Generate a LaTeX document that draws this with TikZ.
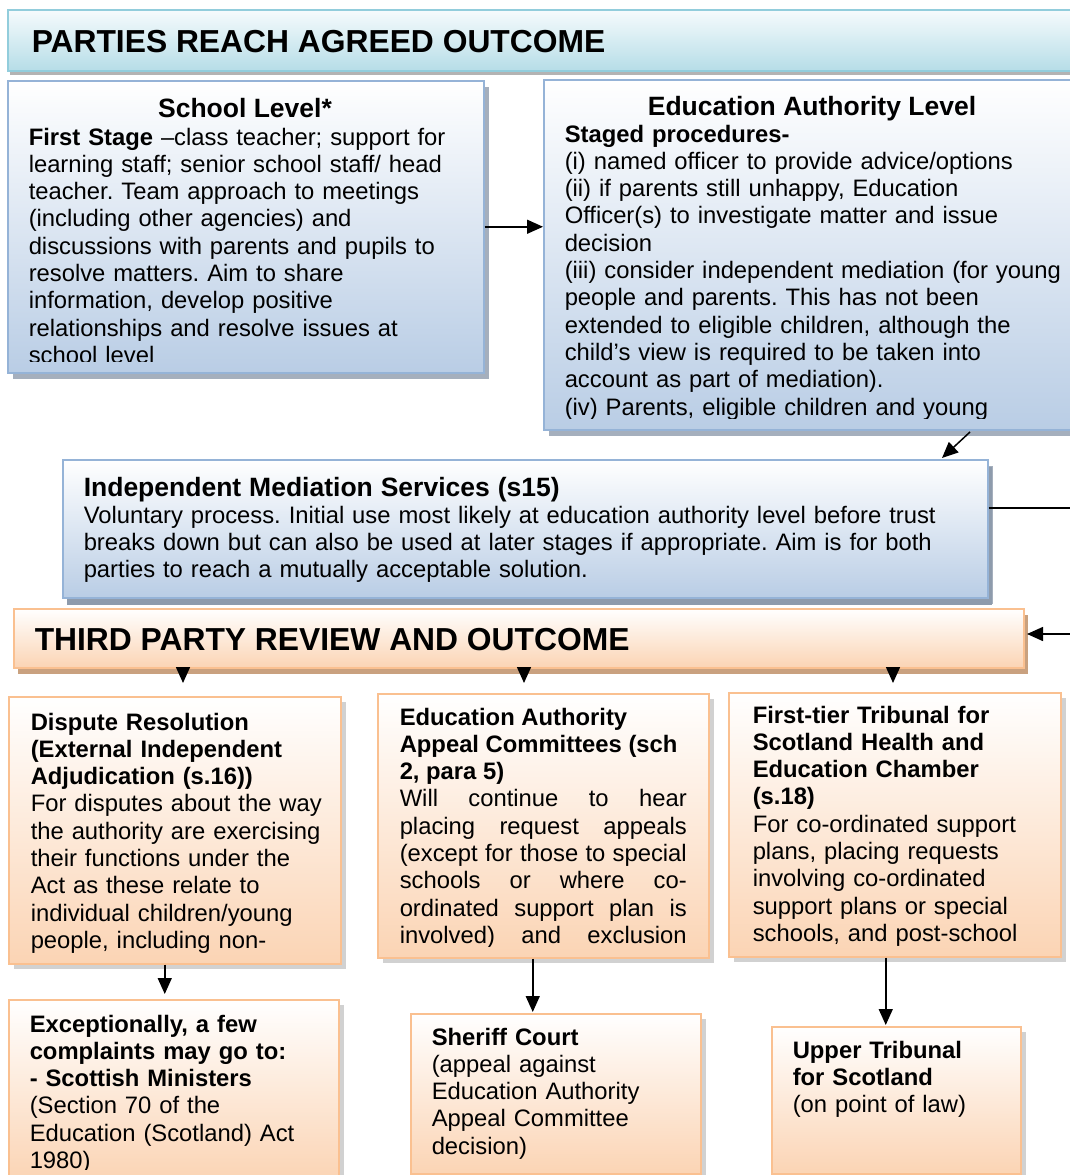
\documentclass[tikz,border=0pt]{standalone}
\usepackage{fontspec}
\setmainfont{Liberation Sans}
\usetikzlibrary{positioning,shadows,arrows.meta}

\definecolor{hdrline}{HTML}{92CDDC}
\definecolor{hdrtop}{HTML}{F6FBFD}
\definecolor{hdrfill}{HTML}{B6DDE7}
\definecolor{blueline}{HTML}{95B3D7}
\definecolor{bluefill}{HTML}{B9CDE5}
\definecolor{blueshade}{HTML}{8E9BAC}
\definecolor{orgline}{HTML}{FAC090}
\definecolor{orgfill}{HTML}{FBD4B4}
\definecolor{orgshade}{HTML}{C9A17F}

\newcommand{\bodysize}{\fontsize{23.8pt}{27.3pt}\selectfont}
\newcommand{\titlesize}{\fontsize{26.5pt}{30pt}\selectfont}
\newcommand{\headsize}{\fontsize{31.8pt}{36pt}\selectfont}
\frenchspacing

\begin{document}
\begin{tikzpicture}[x=1pt,y=-1pt,>={Triangle[length=16pt,width=14pt]},line width=1.5pt,
    box/.style={anchor=north west,inner sep=0pt},
    headbox/.style={box,draw=hdrline,top color=hdrtop,bottom color=hdrfill,
        drop shadow={shadow xshift=2pt,shadow yshift=-4pt,fill=black!50,opacity=.6}},
    bluebox/.style={box,draw=blueline,top color=white,bottom color=bluefill,
        drop shadow={shadow xshift=5pt,shadow yshift=-6pt,fill=blueshade,opacity=.8}},
    reviewbox/.style={box,draw=orgline,top color=white,bottom color=orgfill,
        drop shadow={shadow xshift=4pt,shadow yshift=-6pt,fill=orgshade,opacity=1}},
    orangebox/.style={box,draw=orgline,top color=white,bottom color=orgfill,
        drop shadow={shadow xshift=5pt,shadow yshift=-5pt,fill=black!40,opacity=.45}},
    txt/.style={anchor=base west,inner sep=0pt,align=left,text width=#1,font=\bodysize},
    headtxt/.style={anchor=base west,inner sep=0pt,font=\headsize\bfseries},
    titletxt/.style={anchor=base,inner sep=0pt,font=\titlesize\bfseries}]
    \useasboundingbox (0,0) rectangle (1070,1175);

    \node[headbox,minimum width=1075pt,minimum height=61pt] (agreed) at (7,9) {};
    \node[headtxt] (agreedtxt) at (31,52) {PARTIES REACH AGREED OUTCOME};

    \node[bluebox,minimum width=476pt,minimum height=292pt] (school) at (7,80) {};
    \begin{scope}
        \clip (school.north west) rectangle ([yshift=12pt]school.south east);
        \node[titletxt] (schooltitle) at (245,117) {School Level*};
        \node[txt=445pt] (schooltxt) at (28,145) {\textbf{First Stage} –class teacher; support for\\
            learning staff; senior school staff/ head\\
            teacher. Team approach to meetings\\
            (including other agencies) and\\
            discussions with parents and pupils to\\
            resolve matters. Aim to share\\
            information, develop positive\\
            relationships and resolve issues at\\
            school level};
    \end{scope}

    \node[bluebox,minimum width=540pt,minimum height=350pt] (ea) at (543,79) {};
    \begin{scope}
        \clip (ea.north west) rectangle ([yshift=12pt]ea.south east);
        \node[titletxt] (eatitle) at (812,115) {Education Authority Level};
        \node[txt=505pt] (eatxt) at (564,142) {\textbf{Staged procedures-}\\
            (i) named officer to provide advice/options\\
            (ii) if parents still unhappy, Education\\
            Officer(s) to investigate matter and issue\\
            decision\\
            (iii) consider independent mediation (for young\\
            people and parents. This has not been\\
            extended to eligible children, although the\\
            child’s view is required to be taken into\\
            account as part of mediation).\\
            (iv) Parents, eligible children and young};
    \end{scope}

    \node[bluebox,minimum width=925pt,minimum height=138pt,
        drop shadow={shadow xshift=4pt,shadow yshift=-7pt,fill=blueshade,opacity=1}] (mediation) at (62,459) {};
    \node[txt=895pt] (mediationtxt) at (83,496) {{\titlesize\bfseries Independent Mediation Services (s15)}\\
        Voluntary process. Initial use most likely at education authority level before trust\\
        breaks down but can also be used at later stages if appropriate. Aim is for both\\
        parties to reach a mutually acceptable solution.};

    \node[reviewbox,minimum width=1010pt,minimum height=59pt] (review) at (13,608) {};
    \node[headtxt] (reviewtxt) at (34,650) {THIRD PARTY REVIEW AND OUTCOME};

    \node[orangebox,minimum width=332pt,minimum height=267pt] (dispute) at (8,696) {};
    \begin{scope}
        \clip (dispute.north west) rectangle ([yshift=12pt]dispute.south east);
        \node[txt=305pt] (disputetxt) at (30,730) {\textbf{Dispute Resolution\\
            (External Independent\\
            Adjudication (s.16))}\\
            For disputes about the way\\
            the authority are exercising\\
            their functions under the\\
            Act as these relate to\\
            individual children/young\\
            people, including non-};
    \end{scope}

    \node[orangebox,minimum width=331pt,minimum height=264pt] (appeal) at (377,693) {};
    \begin{scope}
        \clip (appeal.north west) rectangle ([yshift=12pt]appeal.south east);
        \node[txt=287pt,align=justify] (appealtxt) at (399,725) {\textbf{Education Authority\\
            Appeal Committees (sch\\
            2, para 5)}\\
            Will continue to hear\linebreak
            placing request appeals\linebreak
            (except for those to special\linebreak
            schools or where co-\linebreak
            ordinated support plan is\linebreak
            involved) and exclusion\linebreak};
    \end{scope}

    \node[orangebox,minimum width=332pt,minimum height=264pt] (tribunal) at (728,692) {};
    \begin{scope}
        \clip (tribunal.north west) rectangle ([yshift=12pt]tribunal.south east);
        \node[txt=300pt] (tribunaltxt) at (752,723) {\textbf{First-tier Tribunal for\\
            Scotland Health and\\
            Education Chamber\\
            (s.18)}\\
            For co-ordinated support\\
            plans, placing requests\\
            involving co-ordinated\\
            support plans or special\\
            schools, and post-school};
    \end{scope}

    \node[orangebox,minimum width=330pt,minimum height=181pt] (ministers) at (8,999) {};
    \begin{scope}
        \clip (ministers.north west) rectangle ([yshift=12pt]ministers.south east);
        \node[txt=305pt] (ministerstxt) at (29,1032) {\textbf{Exceptionally, a few\\
            complaints may go to:\\
            - Scottish Ministers}\\
            (Section 70 of the\\
            Education (Scotland) Act\\
            1980)};
    \end{scope}

    \node[orangebox,minimum width=290pt,minimum height=160pt] (sheriff) at (410,1013) {};
    \node[txt=265pt] (sherifftxt) at (431,1045) {\textbf{Sheriff Court}\\
        (appeal against\\
        Education Authority\\
        Appeal Committee\\
        decision)};

    \node[orangebox,minimum width=249pt,minimum height=147pt] (upper) at (771,1026) {};
    \node[txt=225pt] (uppertxt) at (792,1058) {\textbf{Upper Tribunal\\
        for Scotland}\\
        (on point of law)};

    \coordinate (eaout) at (970,432);
    \coordinate (medin) at (942,458);
    \coordinate (reviewin) at (1027,634);
    \coordinate (down1) at (183,683);
    \coordinate (down2) at (524,683);
    \coordinate (down3) at (893,683);

    \draw[->] (school.east) -- (school.east -| ea.west);
    \draw[->] (eaout) -- (medin);
    \draw[->] ([yshift=21pt]mediation.east) -- ++(100pt,0pt) |- (reviewin);
    \draw[->] (review.south -| down1) -- (down1);
    \draw[->] (review.south -| down2) -- (down2);
    \draw[->] (review.south -| down3) -- (down3);
    \draw[->,shorten >=5pt] ([xshift=-10pt]dispute.south) -- ([xshift=-10pt]dispute.south |- ministers.north);
    \draw[->,shorten >=1pt] ([xshift=-10.5pt]appeal.south) -- ([xshift=-10.5pt]appeal.south |- sheriff.north);
    \draw[->,shorten >=1pt] ([xshift=-9pt]tribunal.south) -- ([xshift=-9pt]tribunal.south |- upper.north);
\end{tikzpicture}
\end{document}
